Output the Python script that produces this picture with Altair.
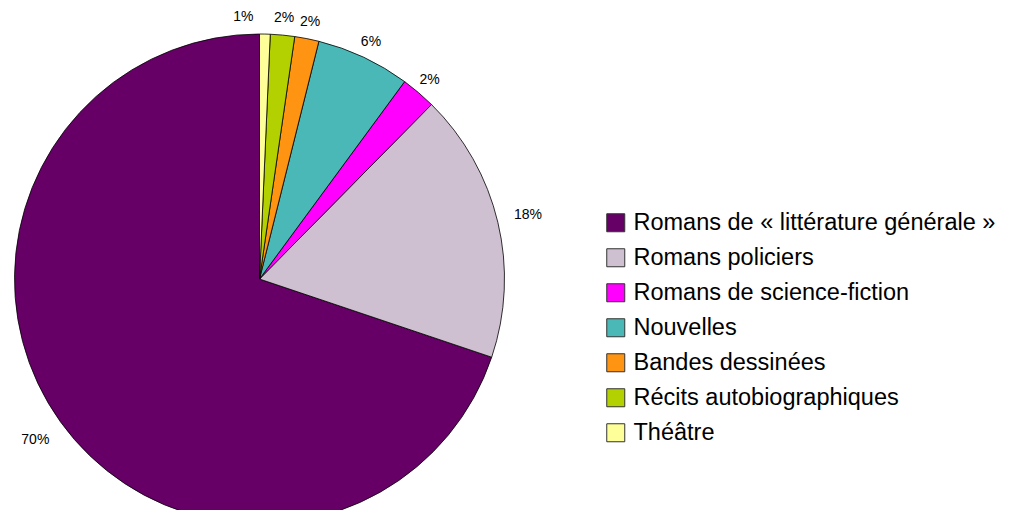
import altair as alt
import pandas as pd

categories = [
    "Romans de « littérature générale »",
    "Romans policiers",
    "Romans de science-fiction",
    "Nouvelles",
    "Bandes dessinées",
    "Récits autobiographiques",
    "Théâtre",
]
values = [69.9, 17.8, 2.3, 6.2, 1.6, 1.6, 0.7]
labels = ["70%", "18%", "2%", "6%", "2%", "2%", "1%"]
colors = ["#660066", "#CFC0D1", "#FF00FF", "#4BB8B8", "#FF9312", "#B3D100", "#FFFF99"]

df = pd.DataFrame({
    "cat": categories,
    "value": values,
    "label": labels,
    "ord": [len(categories) - i for i in range(len(categories))],
})

cx, cy, R = 251.5, 271, 245

color = alt.Color(
    "cat:N",
    scale=alt.Scale(domain=categories, range=colors),
    sort=categories,
    legend=alt.Legend(
        title=None,
        orient="none",
        legendX=596,
        legendY=203,
        symbolType="square",
        symbolSize=324,
        symbolStrokeColor="#333333",
        symbolStrokeWidth=1,
        labelFont="Liberation Sans",
        labelFontSize=23.5,
        labelColor="#000000",
        labelLimit=500,
        rowPadding=10,
        labelOffset=6,
        padding=0,
    ),
)

arc = alt.Chart(df).mark_arc(stroke="#000000", strokeWidth=0.8, outerRadius=R).encode(
    theta=alt.Theta("value:Q", stack=True),
    order=alt.Order("ord:Q"),
    color=color,
    x=alt.value(cx),
    y=alt.value(cy),
)

tbase = (
    alt.Chart(df)
    .transform_window(cum="sum(value)", sort=[alt.SortField("ord", order="ascending")], frame=[None, 0])
    .transform_joinaggregate(total="sum(value)")
    .transform_calculate(ang="2 * PI * (datum.cum - datum.value / 2) / datum.total")
    .encode(
        theta=alt.Theta("ang:Q", scale=None),
        text="label:N",
        x=alt.value(cx),
        y=alt.value(cy),
    )
)

tstyle = dict(font="Liberation Sans", fontSize=14, color="#000000")

text_big = tbase.mark_text(radius=R + 31, **tstyle).transform_filter(alt.datum.value > 10)
text_mid = tbase.mark_text(radius=R + 17, **tstyle).transform_filter(
    (alt.datum.value <= 10) & (alt.datum.cat != "Théâtre")
)
text_small = tbase.mark_text(radius=R + 17, dx=-22, **tstyle).transform_filter(
    alt.datum.cat == "Théâtre"
)

chart = (
    alt.layer(arc, text_big, text_mid, text_small)
    .resolve_scale(theta="independent")
    .properties(width=1000, height=502, padding=0, autosize="none")
    .configure_view(strokeWidth=0, fill="#ffffff")
)

chart.save("out.html", embed_options={"renderer": "svg", "actions": False})
